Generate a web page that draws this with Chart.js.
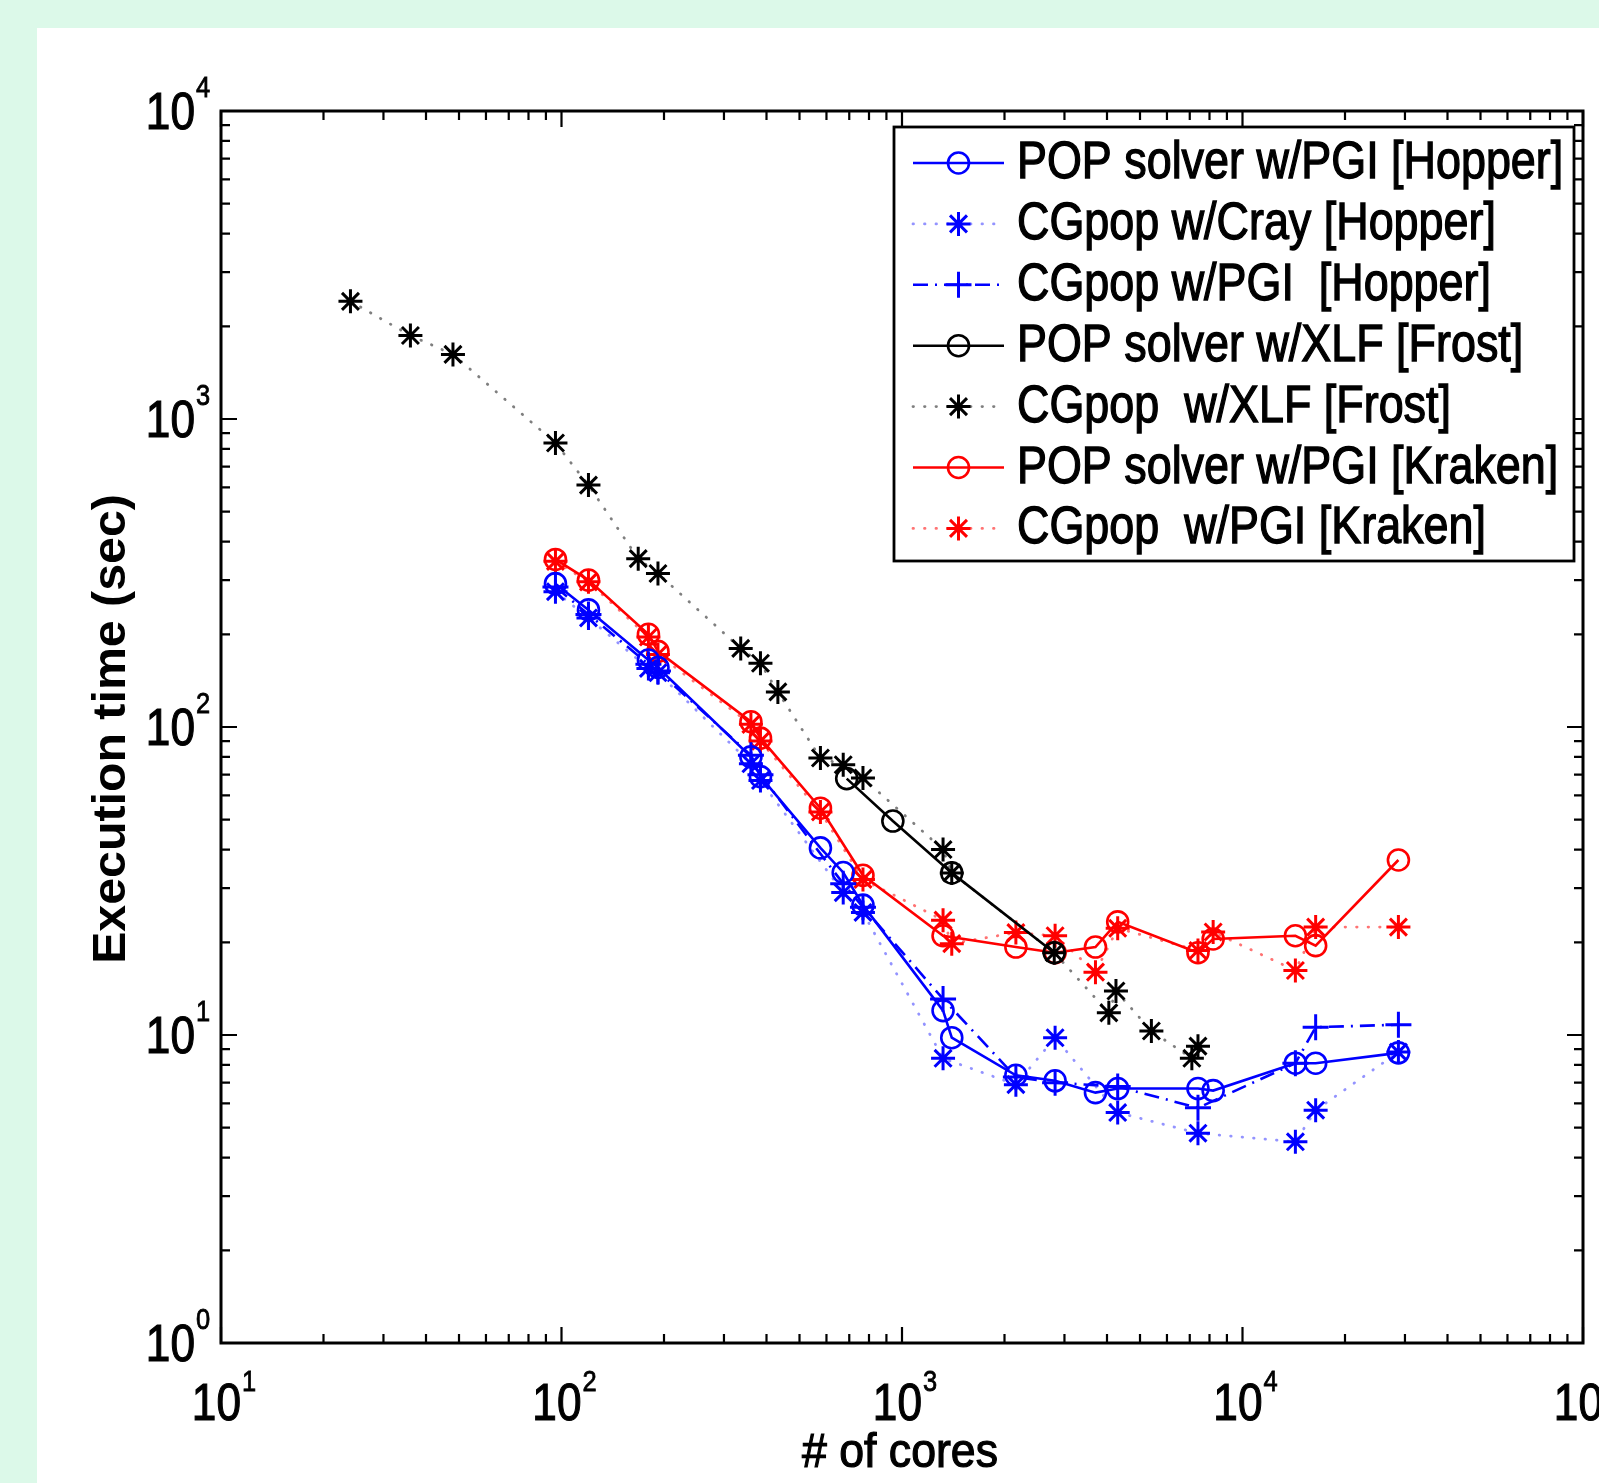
<!DOCTYPE html>
<html>
<head>
<meta charset="utf-8">
<title>Execution time vs cores</title>
<script src="https://cdn.jsdelivr.net/npm/chart.js@4.4.1/dist/chart.umd.min.js"></script>
<style>
  html, body { margin: 0; padding: 0; }
  body { width: 1599px; height: 1483px; background: #dcf9e9; position: relative; overflow: hidden; }
  #panel { position: absolute; left: 37px; top: 28px; right: 0; bottom: 0; background: #fff; }
  #chart { position: absolute; left: 0; top: 0; }
</style>
</head>
<body>
<div id="panel"></div>
<canvas id="chart" width="1599" height="1483"></canvas>
<script>
/* ---- data (cores, seconds) ---- */
const popHopperCores = [96, 120, 180, 192, 360, 384, 576, 672, 768, 1320, 1400, 2160, 2816, 3700, 4300, 7400, 8200, 14300, 16400, 28700];
const popHopperTime  = [292, 240, 165, 156, 80, 69, 40.5, 33.7, 26.4, 12.0, 9.8, 7.4, 7.1, 6.5, 6.7, 6.7, 6.6, 8.1, 8.1, 8.75];

const crayHopperCores = [96, 120, 180, 192, 360, 384, 672, 768, 1320, 2160, 2816, 4300, 7400, 14300, 16400, 28700];
const crayHopperTime  = [275, 226, 155, 150, 76, 67, 29, 25, 8.4, 6.9, 9.8, 5.6, 4.8, 4.5, 5.7, 8.8];

const pgiHopperCores = [96, 120, 180, 192, 360, 384, 672, 768, 1320, 2160, 2816, 4300, 7400, 14300, 16400, 28700];
const pgiHopperTime  = [285, 232, 160, 152, 81, 70, 31, 26, 13.1, 7.3, 7.0, 6.8, 5.8, 8.1, 10.6, 10.8];

const popFrostCores = [688, 940, 1400, 2800];
const popFrostTime  = [68, 49.5, 33.6, 18.5];

const xlfFrostCores = [24, 36, 48, 96, 120, 168, 192, 336, 384, 432, 576, 672, 768, 1320, 1400, 2800, 4050, 4250, 5400, 7100, 7400];
const xlfFrostTime  = [2410, 1867, 1621, 836, 610, 352, 315, 180, 161, 130, 79.3, 75.4, 68.3, 40, 33.6, 18.5, 11.8, 13.9, 10.3, 8.4, 9.2];

const popKrakenCores = [96, 120, 180, 192, 360, 384, 576, 768, 1320, 2160, 2816, 3700, 4300, 7400, 8200, 14300, 16400, 28700];
const popKrakenTime  = [350, 300, 200, 176, 104, 92, 54.5, 33, 21, 19.3, 18.5, 19.3, 23.3, 18.5, 20.5, 21, 19.5, 37];

const pgiKrakenCores = [96, 120, 180, 192, 360, 384, 576, 768, 1320, 1400, 2160, 2816, 3700, 4300, 7400, 8200, 14300, 16400, 28700];
const pgiKrakenTime  = [345, 296, 196, 172, 102, 90, 53, 32, 23.6, 19.8, 21.5, 21, 16, 22.2, 18.8, 21.6, 16.2, 22.4, 22.4];

const seriesLabels = [
  'POP solver w/PGI [Hopper]',
  'CGpop w/Cray [Hopper]',
  'CGpop w/PGI  [Hopper]',
  'POP solver w/XLF [Frost]',
  'CGpop  w/XLF [Frost]',
  'POP solver w/PGI [Kraken]',
  'CGpop  w/PGI [Kraken]',
];

const xTickExp = [1, 2, 3, 4, 5];   // 10^1 .. 10^5
const yTickExp = [0, 1, 2, 3, 4];   // 10^0 .. 10^4
const xTitle = '# of cores';
const yTitle = 'Execution time (sec)';

/* ---- styling ---- */
const FONT   = '"Liberation Sans", Arial, Helvetica, sans-serif';
const BLUE = '#0000ff', RED = '#ff0000', BLACK = '#000000';
const DOT     = [0.5, 11];
const DASHDOT = [15, 7, 2, 7];

const pts = (xs, ys) => xs.map((c, i) => ({ x: c, y: ys[i] }));

function line(label, data, color, lineColor, dash, style, radius) {
  return {
    label, data,
    borderColor: lineColor, borderWidth: dash === DOT ? 2.8 : 2.6, borderDash: dash,
    borderCapStyle: dash === DOT ? 'round' : 'butt',
    pointStyle: style, pointRadius: radius, pointBorderWidth: style === 'circle' ? 2.6 : 3,
    pointBorderColor: color, pointBackgroundColor: 'rgba(0,0,0,0)',
    fill: false, tension: 0,
  };
}

const datasets = [
  line(seriesLabels[4], pts(xlfFrostCores, xlfFrostTime),   BLACK, 'rgba(0,0,0,0.5)',     DOT,     'star',   12),
  line(seriesLabels[3], pts(popFrostCores, popFrostTime),   BLACK, BLACK,                 [],      'circle', 10.5),
  line(seriesLabels[1], pts(crayHopperCores, crayHopperTime), BLUE, 'rgba(40,40,255,0.5)', DOT,     'star',   12),
  line(seriesLabels[2], pts(pgiHopperCores, pgiHopperTime), BLUE,  BLUE,                  DASHDOT, 'cross',  13),
  line(seriesLabels[0], pts(popHopperCores, popHopperTime), BLUE,  BLUE,                  [],      'circle', 10.5),
  line(seriesLabels[6], pts(pgiKrakenCores, pgiKrakenTime), RED,   'rgba(255,0,0,0.55)',  DOT,     'star',   12),
  line(seriesLabels[5], pts(popKrakenCores, popKrakenTime), RED,   RED,                   [],      'circle', 10.5),
];

/* ---- helpers for MATLAB-like frame ---- */
// text drawn horizontally squeezed and lightly stroked, like the exported figure
function squeezed(ctx, txt, x, y, size, sx, align, weight, stroke) {
  ctx.save();
  ctx.font = `${weight || 'normal'} ${size}px ${FONT}`;
  ctx.textAlign = align || 'left';
  ctx.translate(x, y);
  ctx.scale(sx, 1);
  ctx.fillText(txt, 0, 0);
  if (stroke) { ctx.lineWidth = stroke; ctx.strokeStyle = ctx.fillStyle; ctx.strokeText(txt, 0, 0); }
  ctx.restore();
}
function textW(ctx, txt, size, sx) {
  ctx.save(); ctx.font = `normal ${size}px ${FONT}`;
  const w = ctx.measureText(txt).width * sx; ctx.restore(); return w;
}
function logValues(lo, hi) {
  const out = [];
  for (let e = lo; e < hi; e++) for (let m = 1; m <= 9; m++) out.push({ v: m * 10 ** e, major: m === 1 });
  out.push({ v: 10 ** hi, major: true });
  return out;
}

const framePlugin = {
  id: 'frame',
  afterDatasetsDraw(chart) {
    const { ctx, chartArea: a, scales: { x, y } } = chart;
    ctx.save();
    ctx.strokeStyle = '#000'; ctx.fillStyle = '#000';

    // inward ticks on all four sides
    ctx.lineWidth = 2.2;
    logValues(xTickExp[0], xTickExp[xTickExp.length - 1]).forEach(t => {
      const px = x.getPixelForValue(t.v), len = t.major ? 16 : 9;
      ctx.beginPath();
      ctx.moveTo(px, a.bottom); ctx.lineTo(px, a.bottom - len);
      ctx.moveTo(px, a.top);    ctx.lineTo(px, a.top + len);
      ctx.stroke();
    });
    logValues(yTickExp[0], yTickExp[yTickExp.length - 1]).forEach(t => {
      const py = y.getPixelForValue(t.v), len = t.major ? 16 : 9;
      ctx.beginPath();
      ctx.moveTo(a.left, py);  ctx.lineTo(a.left + len, py);
      ctx.moveTo(a.right, py); ctx.lineTo(a.right - len, py);
      ctx.stroke();
    });
    ctx.lineWidth = 3;
    ctx.strokeRect(a.left, a.top, a.right - a.left, a.bottom - a.top);

    // tick labels 10^n
    ctx.textBaseline = 'alphabetic';
    xTickExp.forEach(e => {
      const px = x.getPixelForValue(10 ** e);
      const w10 = textW(ctx, '10', 52, 0.85), we = textW(ctx, String(e), 30, 0.85);
      const start = px - (w10 + 1 + we) / 2 + 3;
      squeezed(ctx, '10', start, a.bottom + 77, 52, 0.85, 'left', 'normal', 1.2);
      squeezed(ctx, String(e), start + w10 + 1, a.bottom + 48, 30, 0.85, 'left', 'normal', 0.8);
    });
    yTickExp.forEach(e => {
      const py = y.getPixelForValue(10 ** e);
      squeezed(ctx, '10', a.left - 26, py + 18, 52, 0.85, 'right', 'normal', 1.2);
      squeezed(ctx, String(e), a.left - 25, py - 14, 30, 0.85, 'left', 'normal', 0.8);
    });

    // axis titles
    squeezed(ctx, xTitle, (a.left + a.right) / 2 - 2, 1467, 48, 0.93, 'center', 'normal', 1.2);
    ctx.save();
    ctx.translate(125, (a.top + a.bottom) / 2 + 2);
    ctx.rotate(-Math.PI / 2);
    squeezed(ctx, yTitle, 0, 0, 46, 1.05, 'center', 'bold');
    ctx.restore();

    // legend box
    const box = { l: 894, t: 127, r: 1574, b: 561 };
    ctx.fillStyle = '#fff';
    ctx.fillRect(box.l, box.t, box.r - box.l, box.b - box.t);
    ctx.lineWidth = 2.8; ctx.strokeStyle = '#000';
    ctx.strokeRect(box.l, box.t, box.r - box.l, box.b - box.t);
    const order = [4, 2, 3, 1, 0, 6, 5];   // dataset index for each legend row
    order.forEach((di, row) => {
      const ds = chart.data.datasets[di];
      const ry = 163 + row * 60.9;
      ctx.save();
      ctx.strokeStyle = ds.borderColor; ctx.lineWidth = ds.borderWidth;
      ctx.setLineDash(ds.borderDash); ctx.lineCap = ds.borderCapStyle;
      ctx.beginPath(); ctx.moveTo(913, ry); ctx.lineTo(1004, ry); ctx.stroke();
      ctx.restore();
      ctx.save();
      ctx.strokeStyle = ds.pointBorderColor; ctx.fillStyle = 'rgba(0,0,0,0)'; ctx.lineWidth = ds.pointBorderWidth;
      Chart.helpers.drawPoint(ctx, { pointStyle: ds.pointStyle, rotation: 0, radius: ds.pointRadius, borderWidth: ds.pointBorderWidth }, 958.5, ry);
      ctx.restore();
      ctx.fillStyle = '#000'; ctx.textBaseline = 'middle';
      squeezed(ctx, ds.label, 1017, ry + 1, 51, 0.88, 'left', 'normal', 1.3);
    });
    ctx.restore();
  }
};

new Chart(document.getElementById('chart'), {
  type: 'line',
  data: { datasets },
  options: {
    responsive: false, animation: false, events: [],
    layout: { padding: { left: 221, top: 111, right: 9, bottom: 140 } },
    plugins: { legend: { display: false }, tooltip: { enabled: false } },
    scales: {
      x: { type: 'logarithmic', display: false, min: 10 ** xTickExp[0], max: 10 ** xTickExp[xTickExp.length - 1] },
      y: { type: 'logarithmic', display: false, min: 10 ** yTickExp[0], max: 10 ** yTickExp[yTickExp.length - 1] },
    },
  },
  plugins: [framePlugin],
});
</script>
</body>
</html>
